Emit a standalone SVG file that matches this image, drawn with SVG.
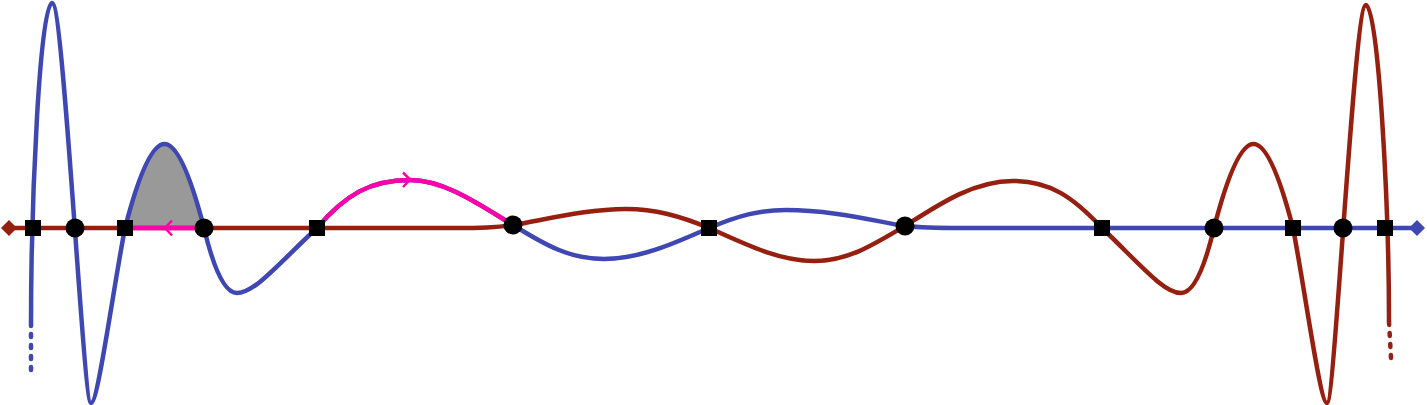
<svg xmlns="http://www.w3.org/2000/svg" width="1427" height="405" viewBox="0 0 1427 405">
<style>
.blue{fill:none;stroke:#3f47b3;stroke-width:4.5;stroke-linejoin:round}
.red{fill:none;stroke:#961f10;stroke-width:4.5;stroke-linejoin:round}
.pink{fill:none;stroke:#ff00aa;stroke-width:4.5}
.parrow{fill:none;stroke:#ff00aa;stroke-width:2.5;stroke-linecap:butt}
.dash{stroke-dasharray:3 8;stroke-linecap:round}
.sq{fill:#000}
.dot{fill:#000}
</style>
<rect width="1427" height="405" fill="#fff"/>
<g id="shaded">
<path d="M125,228 C140,170 153,144 164.5,144 C176,144 189,170 204,228 Z" fill="#999999"/>
</g>
<g id="connectors">
<path class="red" d="M9,228 L458,228 C478,228 493,228 513,225 C548,219 588,209 626,209 C655,209 680,216 709,228 C743,243 778,261 814,261 C848,261 873,245 905,226 C938,205 973,181 1013,181 C1050,181 1073,197 1102,228 C1138,262 1163,293 1181,293 C1193,293 1204,270 1214,228 C1229,170 1242,144 1253.5,144 C1265,144 1278,170 1293,228 C1305,290 1320,403 1327,403 C1335,403 1354,5 1366,5 C1378,5 1389,200 1389,322"/>
<path class="red dash" d="M1389,322 L1391,358"/>
<path class="blue dash" d="M31,370 L31,325"/>
<path class="blue" d="M31,325 C31,200 40,3 52,3 C64,3 83,403 91,403 C98,403 113,290 125,228 C140,170 153,144 164.5,144 C176,144 189,170 204,228 C214,270 225,293 237,293 C255,293 280,262 317,228 C345,195 370,180 410,180 C445,180 480,205 513,225 C545,245 570,259 604,259 C640,259 675,243 709,228 C740,215 760,210 786,210 C830,210 870,220 905,226 C925,228 940,228 960,228 L1417,228"/>
<path class="pink" d="M125,228 L204,228"/>
<path class="parrow" d="M172,220.5 L165,228 L172,235.5"/>
<path class="pink" d="M317,228 C345,195 370,180 410,180 C445,180 480,205 513,225"/>
<path class="parrow" d="M403,172.5 L410,179.5 L403,187"/>
</g>
<g id="end-left"><path d="M1,228 L9,220 L17,228 L9,236 Z" fill="#961f10"/></g>
<g id="end-right"><path d="M1409,228 L1417,220 L1425,228 L1417,236 Z" fill="#3f47b3"/></g>
<g id="s1"><rect class="sq" x="25" y="220" width="16" height="16"/></g>
<g id="c1"><circle class="dot" cx="75" cy="228" r="9.5"/></g>
<g id="s2"><rect class="sq" x="117" y="220" width="16" height="16"/></g>
<g id="c2"><circle class="dot" cx="204" cy="228" r="9.5"/></g>
<g id="s3"><rect class="sq" x="309" y="220" width="16" height="16"/></g>
<g id="c3"><circle class="dot" cx="513" cy="225" r="9.5"/></g>
<g id="s4"><rect class="sq" x="701" y="220" width="16" height="16"/></g>
<g id="c4"><circle class="dot" cx="905" cy="226" r="9.5"/></g>
<g id="s5"><rect class="sq" x="1094" y="220" width="16" height="16"/></g>
<g id="c5"><circle class="dot" cx="1214" cy="228" r="9.5"/></g>
<g id="s6"><rect class="sq" x="1285" y="220" width="16" height="16"/></g>
<g id="c6"><circle class="dot" cx="1343" cy="228" r="9.5"/></g>
<g id="s7"><rect class="sq" x="1377" y="220" width="16" height="16"/></g>
</svg>
